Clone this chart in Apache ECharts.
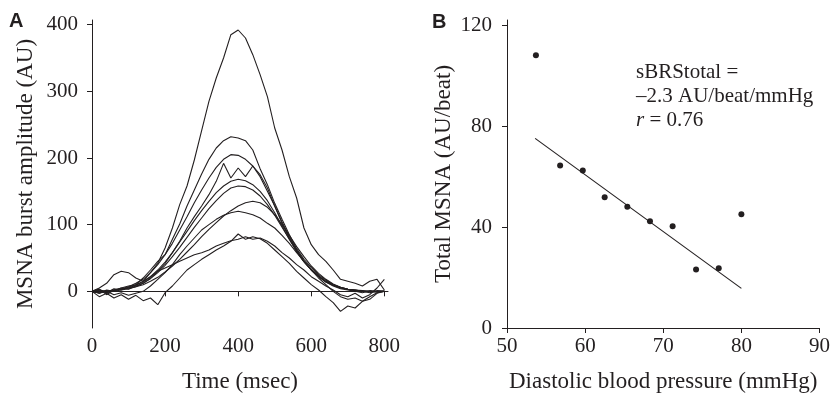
<!DOCTYPE html>
<html><head><meta charset="utf-8">
<script src="https://cdn.jsdelivr.net/npm/echarts@6/dist/echarts.min.js"></script>
<style>html,body{margin:0;padding:0;background:#fff}#c{width:833px;height:398px}</style>
</head><body><div id="c"></div>
<script>
// Panel A: time base (msec) and burst traces (AU)
const timeMs = [0,20,40,60,80,100,120,140,160,180,200,220,240,260,280,300,320,340,360,380,400,420,440,460,480,500,520,540,560,580,600,620,640,660,680,700,720,740,760,780,800];
const trace1 = [0,3,-5,2,5,8,10,15,28,42,65,95,130,158,197,241,285,320,350,385,392,380,355,325,292,245,212,172,140,95,70,55,45,32,18,15,12,8,15,18,2];
const trace2 = [0,3,-2,4,2,6,10,20,32,45,55,78,101,128,152,176,198,215,226,232,230,226,212,184,160,132,108,85,64,48,36,25,17,10,6,3,2,0,-2,1,0];
const trace3 = [0,-2,0,2,4,7,12,18,28,40,55,72,92,112,133,152,170,186,198,205,204,198,188,172,150,128,104,82,62,45,32,22,14,9,5,3,2,1,0,-1,0];
const trace4 = [0,-3,2,0,5,3,8,12,20,30,42,58,75,95,112,128,145,165,192,170,185,172,188,175,155,128,102,80,60,44,32,22,14,8,4,2,0,-2,1,0,0];
const trace5 = [0,2,-1,1,3,5,9,14,22,32,44,58,74,90,106,121,135,148,158,165,168,166,160,150,136,118,98,78,60,45,33,23,15,10,6,3,1,0,-1,0,0];
const trace6 = [-2,0,1,0,2,4,7,12,19,28,39,52,66,81,96,110,124,136,147,155,158,157,152,143,130,114,96,78,60,45,33,23,15,9,5,3,2,0,0,-1,0];
const trace7 = [0,1,-2,2,3,5,7,10,15,21,29,38,48,59,70,82,93,103,113,121,128,133,135,133,126,115,100,84,67,52,38,27,18,11,6,3,1,0,0,0,0];
const trace8 = [0,-3,0,-5,-2,-6,-3,0,8,18,28,40,55,68,80,92,100,108,114,118,120,118,115,110,102,95,84,72,58,45,32,20,10,0,-8,-12,-10,-15,-8,-2,0];
const trace9 = [0,-8,-3,-10,-5,-12,-6,-14,-10,-20,-2,8,20,32,40,48,55,62,68,75,86,78,82,79,72,62,52,42,30,20,10,2,-8,-17,-30,-22,-25,-15,-12,-3,0];
const trace10 = [0,5,12,25,30,28,20,15,22,30,35,40,45,50,55,58,62,68,72,76,78,82,78,80,75,68,58,50,40,32,22,15,8,2,-5,-8,-3,-10,-5,5,18];
const traces = [trace1,trace2,trace3,trace4,trace5,trace6,trace7,trace8,trace9,trace10];
const ticksAX = [0,200,400,600,800];
const ticksAY = [0,100,200,300,400];

// Panel B: diastolic pressure (mmHg) vs total MSNA (AU/beat)
const dbp = [53.7,56.8,59.7,62.5,65.4,68.3,71.2,74.2,77.1,80.0];
const totalMsna = [108.0,64.4,62.4,51.8,48.0,42.3,40.3,23.2,23.7,45.1];
const fitX = [53.6,80.0];
const fitY = [75.1,15.7];
const ticksBX = [50,60,70,80,90];
const ticksBY = [0,40,80,120];

const ink = '#231f20';
const serif = 'Liberation Serif';
const axLine = {show:true, lineStyle:{color:ink, width:1}};
const tick = (vals)=>({show:true, inside:false, length:5, lineStyle:{color:ink,width:1}, customValues:vals});
const lab = (vals, m)=>({show:true, color:ink, fontFamily:serif, fontSize:21, margin:m, customValues:vals});

const series = traces.map(tr => ({
  type:'line', xAxisIndex:0, yAxisIndex:0, showSymbol:false, silent:true,
  lineStyle:{color:ink, width:1.1}, data: timeMs.map((t,i)=>[t, tr[i]])
}));
series.push({type:'scatter', xAxisIndex:1, yAxisIndex:1, symbolSize:6, itemStyle:{color:ink, opacity:1},
  data: dbp.map((x,i)=>[x, totalMsna[i]])});
series.push({type:'line', xAxisIndex:1, yAxisIndex:1, showSymbol:false, lineStyle:{color:ink,width:1.1},
  data: fitX.map((x,i)=>[x, fitY[i]])});

const chart = echarts.init(document.getElementById('c'), null, {renderer:'canvas'});
chart.setOption({
  backgroundColor:'#fff',
  animation:false,
  grid:[
    {left:92, right:445, top:20, bottom:66},
    {left:507, right:10, top:20, bottom:67}
  ],
  xAxis:[
    {gridIndex:0, type:'value', min:0, max:810, splitLine:{show:false}, axisLine:axLine,
     axisTick:tick(ticksAX), axisLabel:lab(ticksAX, 8),
     name:'Time (msec)', nameLocation:'middle', nameGap:42,
     nameTextStyle:{color:ink, fontFamily:serif, fontSize:23}},
    {gridIndex:1, type:'value', min:50, max:90, splitLine:{show:false}, axisLine:axLine,
     axisTick:tick(ticksBX), axisLabel:lab(ticksBX, 8),
     name:'Diastolic blood pressure (mmHg)', nameLocation:'middle', nameGap:42,
     nameTextStyle:{color:ink, fontFamily:serif, fontSize:23}}
  ],
  yAxis:[
    {gridIndex:0, type:'value', min:-55, max:407, splitLine:{show:false}, axisLine:axLine,
     axisTick:tick(ticksAY), axisLabel:lab(ticksAY, 14),
     name:'MSNA burst amplitude (AU)', nameLocation:'middle', nameGap:55, nameRotate:90,
     nameTextStyle:{color:ink, fontFamily:serif, fontSize:23}},
    {gridIndex:1, type:'value', min:0, max:122, splitLine:{show:false}, axisLine:axLine,
     axisTick:tick(ticksBY), axisLabel:lab(ticksBY, 15),
     name:'Total MSNA (AU/beat)', nameLocation:'middle', nameGap:52, nameRotate:90,
     nameTextStyle:{color:ink, fontFamily:serif, fontSize:23}}
  ],
  graphic:[
    {type:'text', left:9, top:11, style:{text:'A', fill:ink, font:'bold 20px "Liberation Sans"'}},
    {type:'text', left:432, top:12, style:{text:'B', fill:ink, font:'bold 20px "Liberation Sans"'}},
    {type:'text', left:636, top:60, style:{
      text:'sBRStotal =\n–2.3 AU/beat/mmHg\n{i|r} = 0.76',
      fill:ink, fontFamily:serif, fontSize:21, lineHeight:24,
      rich:{i:{fontStyle:'italic', fontFamily:serif, fontSize:21, fill:ink}}
    }}
  ],
  series: series
});
</script></body></html>
